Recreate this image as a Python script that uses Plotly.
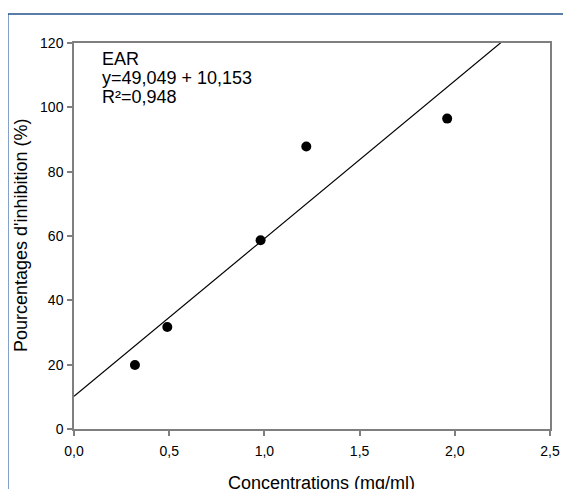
import plotly.graph_objects as go

# Data
conc = [0.32, 0.49, 0.98, 1.22, 1.96]
inhib = [19.9, 31.7, 58.7, 87.8, 96.5]
slope = 49.049
intercept = 10.153
x_ticks = [0.0, 0.5, 1.0, 1.5, 2.0, 2.5]
y_ticks = [0, 20, 40, 60, 80, 100, 120]
label_lines = ["EAR", "y=49,049 + 10,153", "R²=0,948"]
x_title = "Concentrations (mg/ml)"
y_title = "Pourcentages d'inhibition (%)"

line_x = [0.0, 2.5]
line_y = [intercept + slope * v for v in line_x]

# page offset of the figure inside the browser (body margin)
OFF = 8
W, H = 571 - 2 * OFF, 489 - OFF
ml = 74 - OFF
mt = 43 - OFF
mr = W - (550 - OFF)
mb = H - (429 - OFF)
pw = W - ml - mr
ph = H - mt - mb


def px(page_x):
    return (page_x - OFF - ml) / pw


def py(page_y):
    return 1 - (page_y - OFF - mt) / ph


FONT = "Liberation Sans, Arial"

fig = go.Figure()
fig.add_trace(go.Scatter(x=line_x, y=line_y, mode="lines",
                         line=dict(color="black", width=1.2),
                         showlegend=False, cliponaxis=True))
fig.add_trace(go.Scatter(x=conc, y=inhib, mode="markers",
                         marker=dict(color="black", size=10),
                         showlegend=False))

axis_common = dict(showline=True, linecolor="#7f7f7f", linewidth=1.5,
                   mirror=True, ticks="outside", ticklen=5, tickwidth=1.5,
                   tickcolor="#7f7f7f", showgrid=False, zeroline=False,
                   automargin=False,
                   tickfont=dict(family=FONT, size=14, color="black"))

fig.update_xaxes(range=[0, 2.5], tickvals=x_ticks, tickformat=".1f",
                 ticklabelstandoff=3, **axis_common)
fig.update_yaxes(range=[0, 120], tickvals=y_ticks, ticklabelstandoff=1,
                 **axis_common)

# Axis titles
fig.add_annotation(text=x_title, x=px(321.5), y=py(483), xref="paper", yref="paper",
                   xanchor="center", yanchor="middle", showarrow=False,
                   font=dict(family=FONT, size=18, color="black"))
fig.add_annotation(text=y_title, x=px(20.5), y=py(235.5), xref="paper", yref="paper",
                   xanchor="center", yanchor="middle", showarrow=False, textangle=-90,
                   font=dict(family=FONT, size=18, color="black"))

# Annotations for equation
ys = [47, 66, 85]
for txt, ypx in zip(label_lines, ys):
    fig.add_annotation(text=txt, x=px(100), xref="paper", xanchor="left",
                       y=py(ypx), yref="paper", yanchor="top",
                       showarrow=False, align="left",
                       font=dict(family=FONT, size=18, color="black"))

# Blue frame
lx = px(8)
ty = py(14)
fig.add_shape(type="line", xref="paper", yref="paper", x0=lx, x1=lx, y0=-0.3, y1=ty,
              line=dict(color="#5b82b8", width=1.5))
fig.add_shape(type="line", xref="paper", yref="paper", x0=lx, x1=1.2, y0=ty, y1=ty,
              line=dict(color="#23508a", width=1.5))

fig.update_layout(width=W, height=H, margin=dict(l=ml, r=mr, t=mt, b=mb),
                  paper_bgcolor="white", plot_bgcolor="white",
                  separators=", ",
                  font=dict(family=FONT, color="black"))

fig.write_html("out.html")
